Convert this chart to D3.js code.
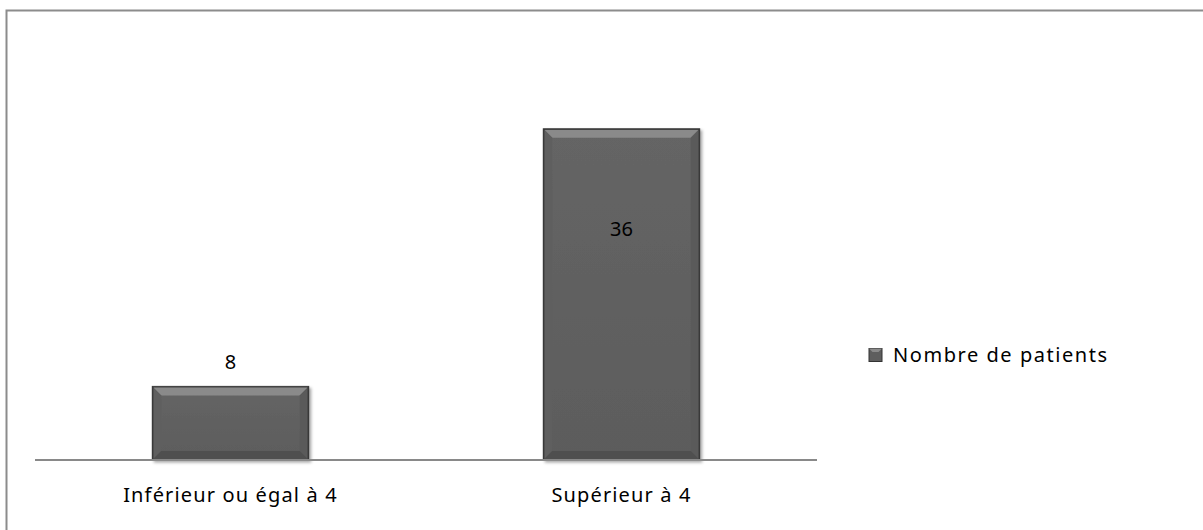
<!DOCTYPE html>
<html><head><meta charset="utf-8">
<script src="https://cdn.jsdelivr.net/npm/d3@7"></script>
<style>
body{margin:0;background:#fff;}
text{font-family:"Noto Sans","Open Sans",sans-serif;fill:#000;}
</style></head>
<body><svg id="c" width="1203" height="530"></svg>
<script>
const categories = ["Inférieur ou égal à 4", "Supérieur à 4"];
const values = [8, 36];
const seriesName = "Nombre de patients";

const FS = 20, LS = 1.15;
const svg = d3.select("#c");
// outer frame
svg.append("rect").attr("x",6.5).attr("y",10.5).attr("width",1200).attr("height",530)
  .attr("fill","#fff").attr("stroke","#8c8c8c").attr("stroke-width",2);

const x = d3.scaleBand().domain(categories).range([35,817]).paddingInner(0.6).paddingOuter(0.3);
const y = d3.scaleLinear().domain([0,40]).range([460,92]);

const defs = svg.append("defs");
const g = defs.append("linearGradient").attr("id","face").attr("x1",0).attr("y1",0).attr("x2",0).attr("y2",1);
g.append("stop").attr("offset","0%").attr("stop-color","#656565");
g.append("stop").attr("offset","100%").attr("stop-color","#5c5c5c");
const f = defs.append("filter").attr("id","sh").attr("x","-10%").attr("y","-10%").attr("width","130%").attr("height","130%");
f.append("feDropShadow").attr("dx",2).attr("dy",2).attr("stdDeviation",1.5).attr("flood-color","#000").attr("flood-opacity",0.35);

const bars = svg.append("g").selectAll("g").data(values).join("g").attr("filter","url(#sh)");
const b = 9;
bars.each(function(d,i){
  const gg = d3.select(this);
  const x0 = x(categories[i]), x1 = x0 + x.bandwidth();
  const y0 = y(d), y1 = y(0);
  gg.append("rect").attr("x",x0).attr("y",y0).attr("width",x1-x0).attr("height",y1-y0)
    .attr("fill","url(#face)").attr("stroke","#3a3a3a").attr("stroke-width",1);
  gg.append("polygon").attr("points",[[x0,y0],[x1,y0],[x1-b,y0+b],[x0+b,y0+b]].join(" "))
    .attr("fill","#8a8a8a");
  gg.append("polygon").attr("points",[[x0,y0],[x0+b,y0+b],[x0+b,y1-b],[x0,y1]].join(" "))
    .attr("fill","#5e5e5e");
  gg.append("polygon").attr("points",[[x1,y0],[x1-b,y0+b],[x1-b,y1-b],[x1,y1]].join(" "))
    .attr("fill","#5a5a5a");
  gg.append("polygon").attr("points",[[x0,y1],[x0+b,y1-b],[x1-b,y1-b],[x1,y1]].join(" "))
    .attr("fill","#4f4f4f");
  gg.append("rect").attr("x",x0+0.5).attr("y",y0+0.5).attr("width",x1-x0-1).attr("height",y1-y0-1)
    .attr("fill","none").attr("stroke","#2e2e2e").attr("stroke-width",1);
});

// axis
const ax = svg.append("g").attr("transform","translate(0,460)")
  .call(d3.axisBottom(x).tickSize(0).tickPadding(42 - 0.71*FS));
ax.select(".domain").attr("stroke","#898989").attr("stroke-width",2)
  .attr("d","M35,0H817");
ax.selectAll("text").attr("font-size",FS).attr("font-family","Noto Sans, sans-serif")
  .attr("fill","#000").attr("letter-spacing",LS);

// value labels
svg.append("g").selectAll("text").data(values).join("text")
  .attr("x",(d,i)=>x(categories[i])+x.bandwidth()/2)
  .attr("y",(d,i)=> d>20 ? y(d)+107 : y(d)-17)
  .attr("text-anchor","middle").attr("font-size",FS).text(d=>d);

// legend
const lg = svg.append("g").attr("transform","translate(869,355)");
lg.append("rect").attr("x",0).attr("y",-6.5).attr("width",13).attr("height",13)
  .attr("fill","#5e5e5e").attr("stroke","#333");
lg.append("polygon").attr("points","0,-6.5 13,-6.5 9.5,-3 3.5,-3").attr("fill","#8a8a8a");
lg.append("text").attr("x",24).attr("y",0).attr("dy","0.35em").attr("font-size",FS)
  .attr("letter-spacing",LS + 0.4).text(seriesName);
</script></body></html>
